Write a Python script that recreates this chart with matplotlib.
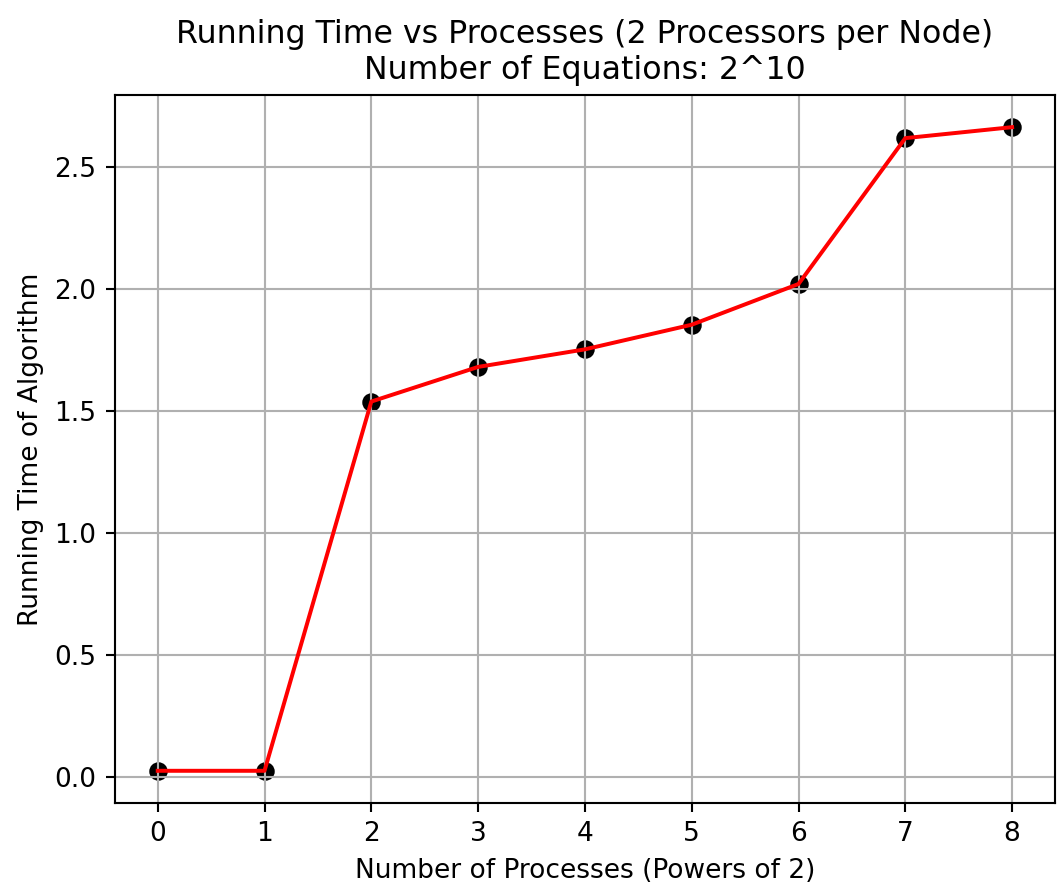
import matplotlib
matplotlib.use("Agg")
import matplotlib.pyplot as plt

# Dados
processos = [0, 1, 2, 3, 4, 5, 6, 7, 8]
tempos = [0.026, 0.026, 1.540, 1.682, 1.754, 1.855, 2.022, 2.620, 2.665]

DPI = 190
fig = plt.figure(figsize=(1058 / DPI, 886 / DPI), dpi=DPI)
plt.subplots_adjust(left=0.1087, right=0.997, top=0.8928, bottom=0.0937)

plt.scatter(processos, tempos, color='black', s=36)
plt.plot(processos, tempos, color='red')
plt.title('Running Time vs Processes (2 Processors per Node)\nNumber of Equations: 2^10')
plt.xlabel('Number of Processes (Powers of 2)')
plt.ylabel('Running Time of Algorithm')
plt.grid(True)

plt.savefig('out.png', dpi=DPI)
